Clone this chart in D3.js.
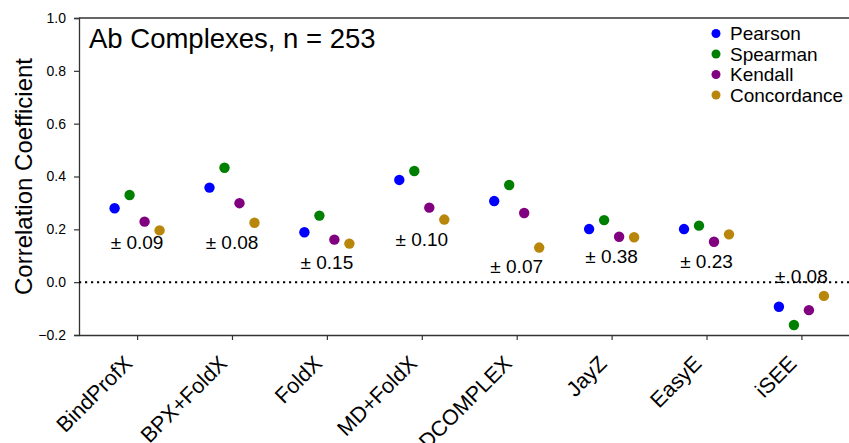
<!DOCTYPE html>
<html><head><meta charset="utf-8">
<script src="https://cdn.jsdelivr.net/npm/d3@7"></script>
<style>body{margin:0;background:#fff}svg{display:block;font-family:"Liberation Sans",Arial,Helvetica,sans-serif}</style>
</head><body><svg id="c" width="849" height="443"></svg>
<script>
const categories = ["BindProfX","BPX+FoldX","FoldX","MD+FoldX","DCOMPLEX","JayZ","EasyE","iSEE"];
const pearson     = [0.280, 0.358, 0.189, 0.387, 0.307, 0.201, 0.201, -0.093];
const spearman    = [0.330, 0.433, 0.252, 0.421, 0.368, 0.235, 0.214, -0.162];
const kendall     = [0.229, 0.299, 0.161, 0.282, 0.262, 0.172, 0.153, -0.106];
const concordance = [0.196, 0.225, 0.146, 0.237, 0.131, 0.170, 0.181, -0.052];
const errLabels = ["± 0.09","± 0.08","± 0.15","± 0.10","± 0.07","± 0.38","± 0.23","± 0.08"];
const errLabelY = [0.125, 0.125, 0.050, 0.138, 0.034, 0.072, 0.053, -0.002];
const seriesNames = ["Pearson","Spearman","Kendall","Concordance"];
const yTicks = [-0.2, 0.0, 0.2, 0.4, 0.6, 0.8, 1.0];
const title = "Ab Complexes, n = 253";
const yLabel = "Correlation Coefficient";

const seriesValues = [pearson, spearman, kendall, concordance];
const colors = ["#0000ff", "#008000", "#800080", "#b8860b"];
const offsets = [-0.237, -0.079, 0.079, 0.237];

const svg = d3.select("#c");
const L = 79, R = 859.5, T = 18, B = 335;
const x = d3.scaleLinear().domain([-0.612, categories.length - 1 + 0.612]).range([L, R]);
const y = d3.scaleLinear().domain([-0.2, 1.0]).range([B, T]);

// frame top
svg.append("line").attr("x1", L).attr("x2", R).attr("y1", T).attr("y2", T)
  .attr("stroke", "#333").attr("stroke-width", 1.3);

// y axis
const ya = svg.append("g").attr("transform", `translate(${L},0)`)
  .call(d3.axisLeft(y).tickValues(yTicks).tickFormat(d3.format(".1f")).tickSize(5).tickPadding(8));
ya.select(".domain").attr("stroke", "#333").attr("stroke-width", 1.3);
ya.selectAll(".tick line").attr("stroke", "#333").attr("stroke-width", 1.2);
ya.selectAll("text").attr("font-size", 14).attr("fill", "#000").style("font-family", "inherit");

// x axis
const xa = svg.append("g").attr("transform", `translate(0,${B})`)
  .call(d3.axisBottom(x).tickValues(d3.range(categories.length)).tickFormat(i => categories[i]).tickSize(5).tickSizeOuter(0));
xa.select(".domain").attr("stroke", "#333").attr("stroke-width", 1.3);
xa.selectAll(".tick line").attr("stroke", "#333").attr("stroke-width", 1.2);
const fsX = 21.5;
xa.selectAll("text")
  .attr("font-size", fsX).attr("fill", "#000").style("font-family", "inherit")
  .attr("text-anchor", "end").attr("dy", null).attr("y", 0)
  .attr("transform", `translate(-4,${19 + 0.707 * 0.72 * fsX}) rotate(-45)`);

// zero dotted line
svg.append("line").attr("x1", L).attr("x2", R).attr("y1", y(0)).attr("y2", y(0))
  .attr("stroke", "#000").attr("stroke-width", 2).attr("stroke-dasharray", "2.2,3.8");

// points
seriesValues.forEach((vals, s) => {
  svg.append("g").selectAll("circle").data(vals).join("circle")
    .attr("cx", (d, i) => x(i + offsets[s]))
    .attr("cy", d => y(d))
    .attr("r", 5.2)
    .attr("fill", colors[s]);
});

// error annotations
svg.append("g").selectAll("text").data(errLabels).join("text")
  .attr("x", (d, i) => x(i))
  .attr("y", (d, i) => y(errLabelY[i]))
  .attr("text-anchor", "middle").attr("font-size", 19).attr("fill", "#000")
  .text(d => d);

// title
svg.append("text").attr("x", 89).attr("y", 47.5).attr("font-size", 27.5).attr("fill", "#000").text(title);

// y label
svg.append("text").attr("transform", `translate(32,${(T + B) / 2}) rotate(-90)`)
  .attr("text-anchor", "middle").attr("font-size", 24).attr("fill", "#000").text(yLabel);

// legend
const lg = svg.append("g");
seriesNames.forEach((n, i) => {
  const yy = 33.5 + i * 20.5;
  lg.append("circle").attr("cx", 716).attr("cy", yy).attr("r", 4.5).attr("fill", colors[i]);
  lg.append("text").attr("x", 730).attr("y", yy).attr("dy", "0.35em").attr("font-size", 19).attr("fill", "#000").text(n);
});
</script></body></html>
